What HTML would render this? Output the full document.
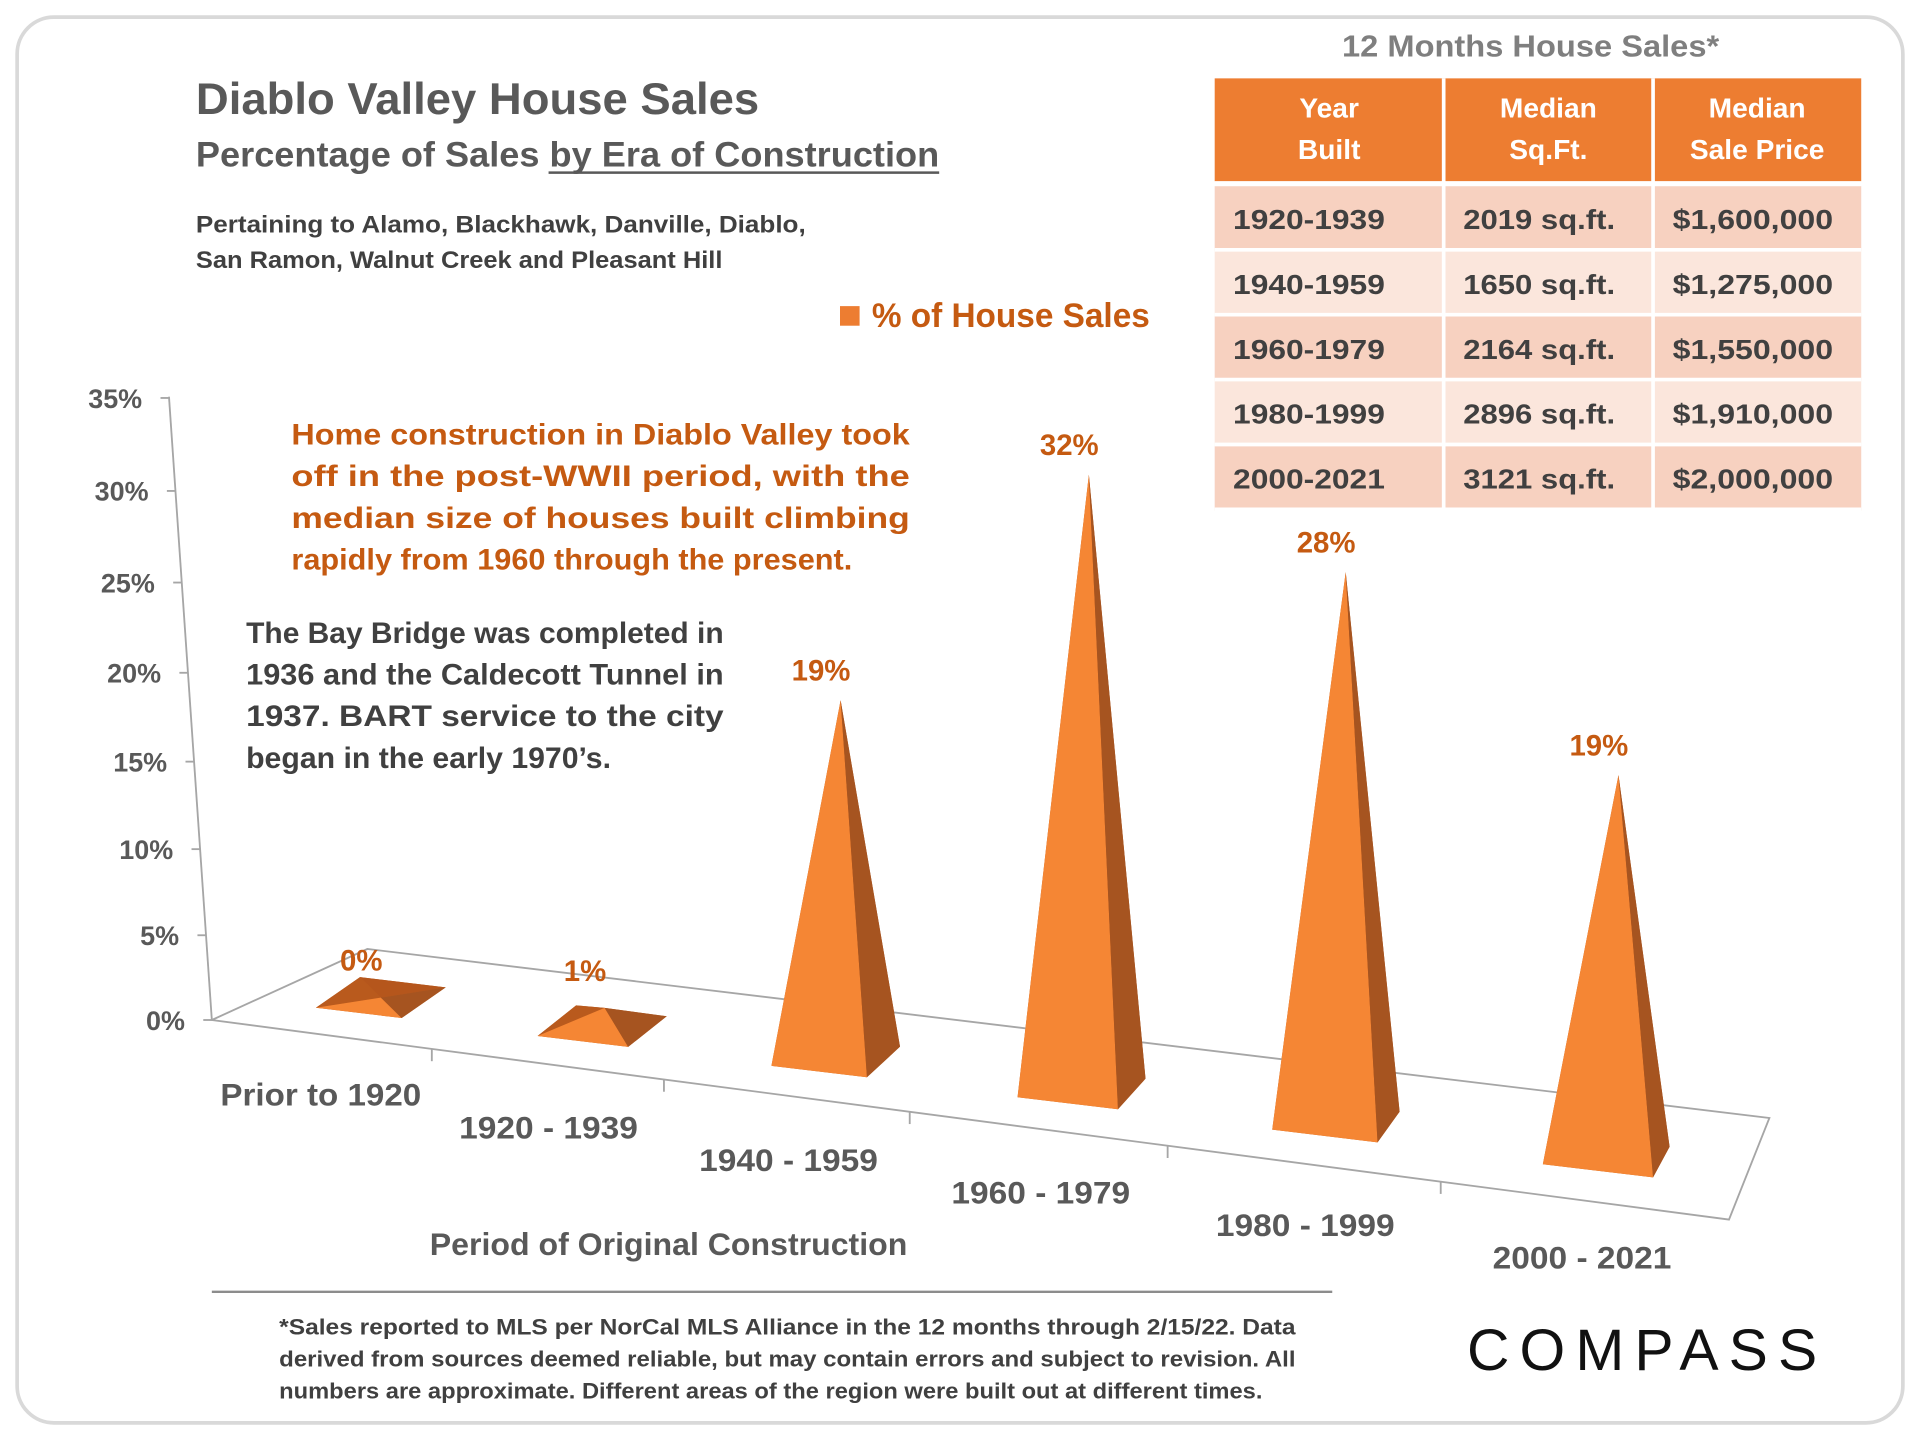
<!DOCTYPE html>
<html><head><meta charset="utf-8"><style>
html,body{margin:0;padding:0;background:#fff;}
svg{display:block;font-family:"Liberation Sans",sans-serif;font-weight:bold;}
</style></head><body>
<svg id="chart" width="1920" height="1440" viewBox="0 0 1568 1176" xmlns="http://www.w3.org/2000/svg">
<rect x="14" y="14" width="1540" height="1148" rx="30" fill="#fff" stroke="#d9d9d9" stroke-width="3"/>
<text x="160" y="93" font-size="36" fill="#595959" textLength="460" lengthAdjust="spacingAndGlyphs">Diablo Valley House Sales</text>
<text x="160" y="136" font-size="29" fill="#595959" textLength="607" lengthAdjust="spacingAndGlyphs">Percentage of Sales by Era of Construction</text>
<line x1="448" y1="141" x2="767" y2="141" stroke="#595959" stroke-width="2"/>
<text font-size="20" fill="#404040"><tspan x="160" y="190" textLength="498" lengthAdjust="spacingAndGlyphs">Pertaining to Alamo, Blackhawk, Danville, Diablo,</tspan><tspan x="160" y="219" textLength="430" lengthAdjust="spacingAndGlyphs">San Ramon, Walnut Creek and Pleasant Hill</tspan></text>
<g><rect x="686" y="250" width="16" height="16" fill="#ed7d31"/><text x="712" y="267" font-size="28" fill="#c55a11" textLength="227" lengthAdjust="spacingAndGlyphs">% of House Sales</text></g>

<text x="1250" y="46" font-size="25" fill="#7f7f7f" text-anchor="middle" textLength="308" lengthAdjust="spacingAndGlyphs">12 Months House Sales*</text>
<g id="table"></g>

<g id="plot"></g>

<text font-size="24" fill="#c55a11">
<tspan x="238" y="363" textLength="505" lengthAdjust="spacingAndGlyphs">Home construction in Diablo Valley took</tspan>
<tspan x="238" y="397" textLength="505" lengthAdjust="spacingAndGlyphs">off in the post-WWII period, with the</tspan>
<tspan x="238" y="431" textLength="505" lengthAdjust="spacingAndGlyphs">median size of houses built climbing</tspan>
<tspan x="238" y="465" textLength="458" lengthAdjust="spacingAndGlyphs">rapidly from 1960 through the present.</tspan></text>
<text font-size="24" fill="#404040">
<tspan x="201" y="525" textLength="390" lengthAdjust="spacingAndGlyphs">The Bay Bridge was completed in</tspan>
<tspan x="201" y="559" textLength="390" lengthAdjust="spacingAndGlyphs">1936 and the Caldecott Tunnel in</tspan>
<tspan x="201" y="593" textLength="390" lengthAdjust="spacingAndGlyphs">1937.  BART  service  to  the  city</tspan>
<tspan x="201" y="627" textLength="298" lengthAdjust="spacingAndGlyphs">began in the early 1970’s.</tspan></text>

<text x="546" y="1025" font-size="26" fill="#595959" text-anchor="middle" textLength="390" lengthAdjust="spacingAndGlyphs">Period of Original Construction</text>
<line x1="173" y1="1055" x2="1088" y2="1055" stroke="#8c8c8c" stroke-width="2"/>
<text font-size="18" fill="#404040">
<tspan x="228" y="1090" textLength="830" lengthAdjust="spacingAndGlyphs">*Sales reported to MLS per NorCal MLS Alliance in the 12 months through 2/15/22.  Data</tspan>
<tspan x="228" y="1116" textLength="830" lengthAdjust="spacingAndGlyphs">derived from sources deemed reliable, but may contain errors and subject to revision. All</tspan>
<tspan x="228" y="1142" textLength="803" lengthAdjust="spacingAndGlyphs">numbers are approximate. Different areas of the region were built out at different times.</tspan></text>
<g>
<text x="1198" y="1119" font-size="48" font-weight="normal" fill="#111" textLength="286" lengthAdjust="spacing">COMPASS</text>
</g>
</svg>
<script>
const categories = ["Prior to 1920","1920 - 1939","1940 - 1959","1960 - 1979","1980 - 1999","2000 - 2021"];
const salesPct = [0, 1, 19, 32, 28, 19];
const valueLabels = ["0%","1%","19%","32%","28%","19%"];
const yTicks = [0,5,10,15,20,25,30,35];
const tableHeaders = [["Year","Built"],["Median","Sq.Ft."],["Median","Sale Price"]];
const tableYears = ["1920-1939","1940-1959","1960-1979","1980-1999","2000-2021"];
const tableSqft = ["2019 sq.ft.","1650 sq.ft.","2164 sq.ft.","2896 sq.ft.","3121 sq.ft."];
const tablePrice = ["$1,600,000","$1,275,000","$1,550,000","$1,910,000","$2,000,000"];

const NS="http://www.w3.org/2000/svg";
function mk(tag,attrs,parent,txt){const e=document.createElementNS(NS,tag);for(const k in attrs)e.setAttribute(k,attrs[k]);if(txt!==undefined)e.textContent=txt;parent.appendChild(e);return e;}

// table
const tb=document.getElementById('table');
const colX=[992,1179,1350,1520];
const hdr=mk('rect',{x:992,y:64,width:528,height:84,fill:'#ed7d31'},tb);


tableHeaders.forEach((h,c)=>{
  const cx=(colX[c]+colX[c+1])/2;
  const t=mk('text',{x:cx,y:96,'font-size':23,fill:'#fff','text-anchor':'middle'},tb,h[0]);
  
  
  const t2=mk('text',{x:cx,y:130,'font-size':23,fill:'#fff','text-anchor':'middle'},tb,h[1]);
  
  
});
tableYears.forEach((yr,r)=>{
  const y0=152+r*53;
  const row=mk('rect',{x:992,y:y0,width:528,height:53,fill:r%2===0?'#f7d1c0':'#fbe6dc'},tb);
  
  
  const vals=[yr,tableSqft[r],tablePrice[r]];
  const xs=[1007,1195,1366];
  vals.forEach((v,c)=>{
    const t=mk('text',{x:xs[c],y:y0+35,'font-size':23,fill:'#404040',textLength:c===0?124:c===1?124:131,lengthAdjust:'spacingAndGlyphs'},tb,v);
    
    
  });
});
[1179,1350].forEach(x=>{mk('line',{x1:x,y1:64,x2:x,y2:417,stroke:'#fff','stroke-width':3},tb);});
for(let r=0;r<=5;r++){mk('line',{x1:992,y1:150+r*53+(r?1:0),x2:1520,y2:150+r*53+(r?1:0),stroke:'#fff','stroke-width':r?3:4},tb);}

// plot
const pl=document.getElementById('plot');
const y0px=833;
function yAxisY(v){return y0px-v*13.73-v*v*0.0224;}
function axisX(y){return 173-(833-y)*(35/509);}
mk('line',{x1:138,y1:324,x2:173,y2:833,stroke:'#a6a6a6','stroke-width':1.5},pl);
yTicks.forEach(v=>{
  const y=yAxisY(v),x=axisX(y);
  mk('line',{x1:x-7,y1:y,x2:x,y2:y,stroke:'#a6a6a6','stroke-width':1.5},pl);
  const t=mk('text',{x:x-22,y:y+8,'font-size':22,fill:'#595959','text-anchor':'end'},pl,v+'%');
  
  
});
// floor
const floor=mk('path',{d:'M173,833 L300,775 L1445,913 L1412,996 Z',fill:'none',stroke:'#a6a6a6','stroke-width':1.5},pl);


function frontX(t){return 173+(1412-173)*t;}
function frontY(t){return 833+(996-833)*t;}
[0.145,0.298,0.46,0.63,0.81].forEach(t=>{mk('line',{x1:frontX(t),y1:frontY(t),x2:frontX(t),y2:frontY(t)+10,stroke:'#a6a6a6','stroke-width':1.5},pl);});

function baseX(i){return 258+181*i+5*i*(i-1);}
function baseY(x){return 823+(x-258)*0.1275;}
categories.forEach((cat,i)=>{
  const v=salesPct[i];
  const flx=baseX(i)-(i>=4?3:0), fly=baseY(flx);
  const w=70+4*i, frx=flx+w, fry=fly+w*0.12;
  const dx=36-4.5*i, brx=frx+dx, bry=fry-25, blx=flx+dx, bly=fly-25;
  const cx=(flx+brx)/2+2*i, cy=(fly+bry)/2;
  const k=14.6+0.35*i;
  const ax=cx, ay=cy-v*k;
  const g=mk('g',{},pl);
  
  
  mk('polygon',{points:`${flx},${fly} ${frx},${fry} ${brx},${bry} ${blx},${bly}`,fill:'#c2601f'},g);
  mk('polygon',{points:`${ax},${ay} ${blx},${bly} ${brx},${bry}`,fill:'#b5561c'},g);
  mk('polygon',{points:`${ax},${ay} ${blx},${bly} ${flx},${fly}`,fill:'#b95a1d'},g);
  mk('polygon',{points:`${ax},${ay} ${flx},${fly} ${frx},${fry}`,fill:'#f58634'},g);
  mk('polygon',{points:`${ax},${ay} ${frx},${fry} ${brx},${bry}`,fill:'#a65420'},g);
  const lbl=mk('text',{x:ax-16,y:ay-(v<2?22:16),'font-size':24,fill:'#c55a11','text-anchor':'middle'},pl,valueLabels[i]);
  
  
  const cl=mk('text',{x:baseX(i)+4+5*i,y:903+26.6*i,'font-size':26,fill:'#595959','text-anchor':'middle'},pl,cat);
  
  
  cl.setAttribute('textLength',i===0?164:146);
  cl.setAttribute('lengthAdjust','spacingAndGlyphs');
});
</script>
</body></html>
